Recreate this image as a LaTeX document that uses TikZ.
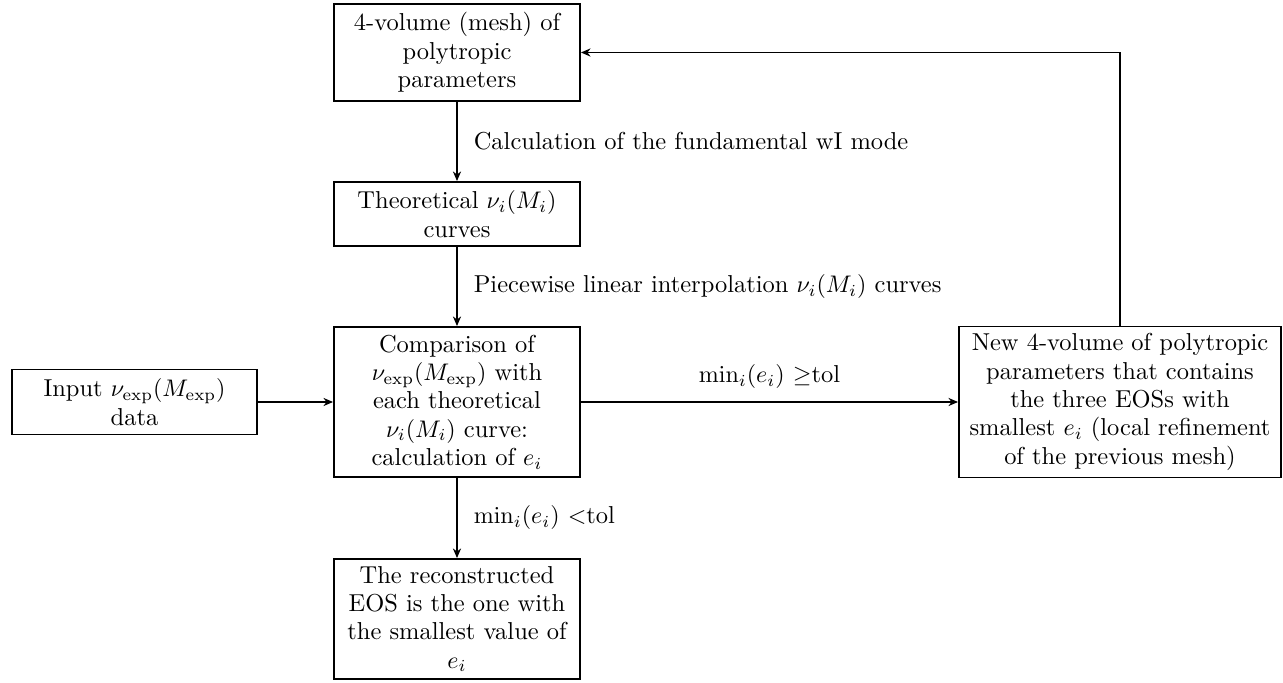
\documentclass[tikz,border=0pt]{standalone}
\usepackage{amsmath}
\usetikzlibrary{arrows.meta}
\begin{document}
\begin{tikzpicture}[x=0.4167pt, y=-0.4167pt,
  every node/.style={font=\fontsize{10.2}{11.8}\selectfont},
  box/.style={draw, line width=0.8pt, align=center, inner sep=0pt},
  conn/.style={line width=0.8pt, -{Stealth[length=4pt,width=3.4pt,inset=1.3pt]}},
  lblr/.style={midway, anchor=west, inner sep=0pt, xshift=6.6pt},
  lbla/.style={midway, anchor=south, inner sep=0pt, yshift=5.2pt}]
\useasboundingbox (0,0) rectangle (1283,683);
\node[box, minimum width=246*0.4167pt, minimum height=97*0.4167pt] (top) at (457,52.5)
  {4-volume (mesh) of\\polytropic\\parameters};
\node[box, minimum width=246*0.4167pt, minimum height=64*0.4167pt] (theo) at (457,214)
  {Theoretical $\nu_i(M_i)$\\curves};
\node[box, minimum width=246*0.4167pt, minimum height=150*0.4167pt] (comp) at (457,402)
  {Comparison of\\$\nu_{\mathrm{exp}}(M_{\mathrm{exp}})$ with\\each theoretical\\$\nu_i(M_i)$ curve:\\calculation of $e_i$};
\node[box, minimum width=245*0.4167pt, minimum height=65*0.4167pt] (input) at (134.5,402)
  {Input $\nu_{\mathrm{exp}}(M_{\mathrm{exp}})$\\data};
\node[box, minimum width=322*0.4167pt, minimum height=151*0.4167pt] (new) at (1120,402)
  {New 4-volume of polytropic\\parameters that contains\\the three EOSs with\\smallest $e_i$ (local refinement\\of the previous mesh)};
\node[box, minimum width=246*0.4167pt, minimum height=120*0.4167pt] (rec) at (457,619)
  {The reconstructed\\EOS is the one with\\the smallest value of\\$e_i$};
\draw[conn] (top) -- node[lblr] {Calculation of the fundamental wI mode} (theo);
\draw[conn] (theo) -- node[lblr] {Piecewise linear interpolation $\nu_i(M_i)$ curves} (comp);
\draw[conn] (input) -- (comp);
\draw[conn] (comp) -- node[lbla] {$\min_i(e_i)$ $\geq$tol} (new);
\draw[conn] (comp) -- node[lblr] {$\min_i(e_i)$ $<$tol} (rec);
\draw[conn] (new.north) |- (top.east);
\end{tikzpicture}
\end{document}
